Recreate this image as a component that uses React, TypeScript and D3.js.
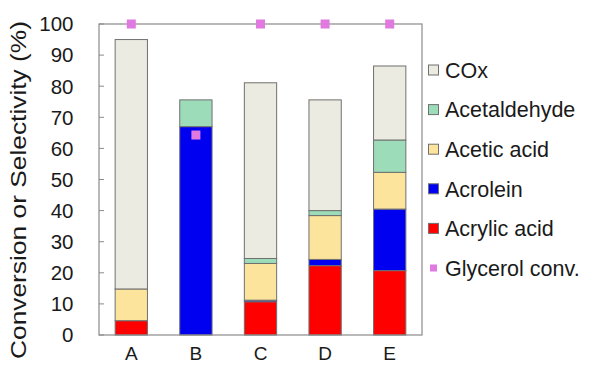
import React from "react";
import * as d3 from "d3";

const categories = ["A", "B", "C", "D", "E"];
const acrylicAcid = [4.6, 0, 10.7, 22.3, 20.7];
const acrolein = [0, 67, 0.5, 2, 19.8];
const aceticAcid = [10.2, 0, 11.8, 14.1, 11.8];
const acetaldehyde = [0, 8.6, 1.6, 1.6, 10.4];
const cox = [80.2, 0, 56.5, 35.6, 23.8];
const glycerolConv = [100, 64.3, 100, 100, 100];
const yTicks = [0, 10, 20, 30, 40, 50, 60, 70, 80, 90, 100];

const seriesNames = ["Acrylic acid", "Acrolein", "Acetic acid", "Acetaldehyde", "COx"];
const seriesData = [acrylicAcid, acrolein, aceticAcid, acetaldehyde, cox];
const seriesColors = ["#ff0000", "#0000f0", "#fde49c", "#9cdcb8", "#ecebe1"];
const legendNames = ["COx", "Acetaldehyde", "Acetic acid", "Acrolein", "Acrylic acid", "Glycerol conv."];
const legendColors = ["#ecebe1", "#9cdcb8", "#fde49c", "#0000f0", "#ff0000", "#e17ae0"];

export default function App() {
  const W = 593, H = 370;
  const left = 99, right = 422, top = 24, bottom = 335;
  const x = d3.scaleBand<string>().domain(categories).range([left, right]).paddingInner(0.5).paddingOuter(0.25);
  const y = d3.scaleLinear().domain([0, 100]).range([bottom, top]);
  const font = "Arial, 'Liberation Sans', sans-serif";

  const rows = categories.map((c, i) => {
    let acc = 0;
    return seriesData.map((s, k) => {
      const y0 = acc;
      acc += s[i];
      return { c, k, y0, y1: acc };
    });
  });

  return (
    <svg width={W} height={H} style={{ position: "absolute", left: 0, top: 0, background: "#fff" }}>
      <rect x={0} y={0} width={W} height={H} fill="#fff" />
      {rows.map((segs) =>
        segs.filter((s) => s.y1 - s.y0 > 0).map((s) => (
          <rect key={s.c + s.k} x={x(s.c)} y={y(s.y1)} width={x.bandwidth()} height={y(s.y0) - y(s.y1)}
            fill={seriesColors[s.k]} stroke="#707070" strokeWidth={1} />
        ))
      )}
      <rect x={left} y={top} width={right - left} height={bottom - top} fill="none" stroke="#8a8a8a" strokeWidth={1.2} />
      {yTicks.map((t) => (
        <g key={t}>
          <line x1={left} x2={left + 5} y1={y(t)} y2={y(t)} stroke="#8a8a8a" />
          <text x={73.5} y={y(t)} dy="0.36em" textAnchor="end" fontFamily={font} fontSize={20.5} fill="#1a1a1a">{t}</text>
        </g>
      ))}
      {categories.map((c) => (
        <text key={c} x={(x(c) as number) + x.bandwidth() / 2} y={360} textAnchor="middle" fontFamily={font} fontSize={19} fill="#1a1a1a">{c}</text>
      ))}
      {categories.map((c, i) => (
        <rect key={"g" + c} x={(x(c) as number) + x.bandwidth() / 2 - 4.5} y={y(glycerolConv[i]) - 4.5} width={9} height={9} fill="#e17ae0" />
      ))}
      <text transform={`translate(26,${190}) rotate(-90)`} textAnchor="middle" fontFamily={font} fontSize={22}
        textLength={338} lengthAdjust="spacingAndGlyphs" fill="#1a1a1a">Conversion or Selectivity (%)</text>
      {legendNames.map((n, i) => {
        const cy = 70 + i * 39.6;
        const isMarker = i === 5;
        return (
          <g key={n}>
            {isMarker ? (
              <rect x={430} y={cy - 3.5} width={7} height={7} fill={legendColors[i]} />
            ) : (
              <rect x={428.5} y={cy - 5} width={10} height={10} fill={legendColors[i]} stroke="#707070" strokeWidth={1} />
            )}
            <text x={445} y={cy} dy="0.36em" fontFamily={font} fontSize={21.5} fill="#1a1a1a">{n}</text>
          </g>
        );
      })}
    </svg>
  );
}
